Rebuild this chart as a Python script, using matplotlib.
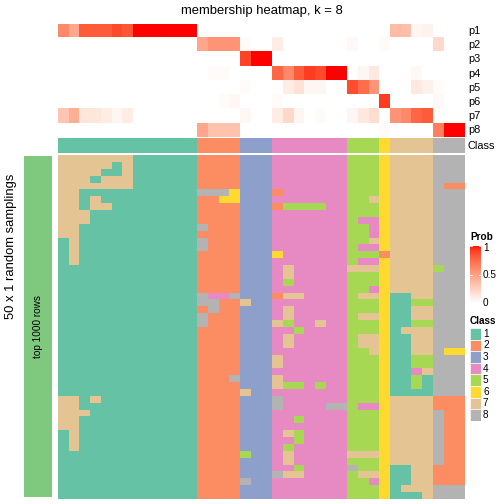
import numpy as np
import matplotlib
matplotlib.use("Agg")
import matplotlib.pyplot as plt
from matplotlib.colors import ListedColormap

plt.rcParams['font.family'] = ['Liberation Sans', 'DejaVu Sans']

# ---------------- data ----------------
title = "membership heatmap, k = 8"
prob_labels = ["p1", "p2", "p3", "p4", "p5", "p6", "p7", "p8"]
class_labels = ["1", "2", "3", "4", "5", "6", "7", "8"]
class_colors = ["#66C2A5", "#FC8D62", "#8DA0CB", "#E78AC3",
                "#A6D854", "#FFD92F", "#E5C494", "#B3B3B3"]

# consensus class of each of the 38 columns
col_class = [1]*13 + [2]*4 + [3]*3 + [4]*7 + [5]*3 + [6] + [7]*4 + [8]*3

p1 = [0.6, 0.45, 0.8, 0.8, 0.8, 0.86, 0.82, 1, 1, 1, 1, 1, 1,
      0, 0, 0, 0, 0, 0, 0, 0, 0, 0, 0, 0, 0, 0, 0, 0, 0, 0,
      0.35, 0.33, 0.05, 0.07, 0, 0, 0]
p2 = [0]*13 + [0.45, 0.55, 0.55, 0.55] + [0.02, 0, 0] + [0.1, 0, 0, 0, 0, 0, 0] \
     + [0.03, 0, 0] + [0.02] + [0, 0, 0, 0] + [0.2, 0, 0]
p3 = [0]*13 + [0, 0, 0, 0] + [0.88, 1, 1] + [0]*7 + [0, 0, 0] + [0] + [0]*4 + [0, 0, 0]
p4 = [0]*13 + [0, 0.02, 0.02, 0] + [0, 0, 0] + [0.75, 0.6, 0.8, 0.9, 0.86, 1, 1] \
     + [0, 0.05, 0.12] + [0] + [0, 0, 0.03, 0] + [0, 0, 0]
p5 = [0]*13 + [0, 0, 0, 0] + [0.02, 0, 0] + [0, 0.1, 0.15, 0.05, 0.05, 0, 0] \
     + [0.85, 0.72, 0.55] + [0] + [0, 0, 0.12, 0.08] + [0.02, 0, 0]
p6 = [0]*13 + [0, 0, 0.02, 0.04] + [0, 0, 0] + [0.02, 0, 0, 0, 0, 0, 0] \
     + [0, 0, 0] + [0.9] + [0, 0, 0, 0] + [0.03, 0, 0]
p7 = [0.3, 0.42, 0.13, 0.13, 0.1, 0.05, 0.1, 0, 0, 0, 0, 0, 0] + [0, 0, 0, 0] \
     + [0.04, 0, 0] + [0.1, 0.2, 0.05, 0, 0.02, 0, 0] + [0.05, 0.12, 0.18] + [0] \
     + [0.55, 0.6, 0.75, 0.8] + [0, 0, 0]
p8 = [0]*13 + [0.45, 0.32, 0.32, 0.32] + [0, 0, 0] + [0]*7 + [0, 0, 0] + [0.02] \
     + [0, 0, 0, 0] + [0.65, 1, 1]

# deviations from the consensus class in the 50 random samplings: row -> {col: class}
sampling_changes = {
    0: {0: 7, 1: 7, 2: 7, 3: 7, 4: 7, 5: 7, 6: 7},
    1: {0: 7, 1: 7, 2: 7, 3: 7, 4: 7, 6: 7},
    2: {0: 7, 1: 7, 2: 7, 3: 7, 6: 7},
    3: {0: 7, 1: 7, 2: 7, 4: 7, 5: 7, 6: 7},
    4: {0: 7, 1: 7, 2: 7, 3: 7, 4: 7, 5: 7, 6: 7, 36: 2, 37: 2},
    5: {0: 7, 1: 7, 13: 8, 14: 8, 15: 8, 16: 6, 20: 2},
    6: {0: 7, 1: 7, 3: 7, 15: 6, 16: 6, 29: 7},
    7: {0: 7, 1: 7, 3: 7, 4: 7, 20: 2, 21: 5, 22: 5, 23: 5, 24: 5},
    8: {0: 7, 1: 7, 2: 7},
    9: {0: 7, 1: 7, 2: 7, 28: 4, 29: 4},
    10: {0: 7, 1: 7, 13: 8, 29: 4},
    11: {0: 7, 1: 7, 29: 4},
    12: {1: 7, 13: 8, 29: 7},
    13: {1: 7, 13: 8, 28: 4, 29: 4},
    14: {1: 7, 20: 6, 30: 2},
    15: {1: 7, 28: 4, 29: 4},
    16: {21: 7, 27: 7, 28: 7, 29: 7, 35: 5},
    17: {21: 7},
    18: {21: 5},
    19: {29: 4},
    20: {13: 8, 14: 4, 15: 4, 16: 8, 20: 2, 21: 7, 22: 7, 28: 7, 29: 7, 31: 1, 32: 1},
    21: {13: 8, 14: 8, 17: 7, 31: 1, 32: 1, 33: 5, 34: 5},
    22: {14: 8, 21: 7, 31: 1, 32: 1},
    23: {13: 8, 21: 7, 28: 7, 29: 7, 31: 1, 32: 1},
    24: {13: 8, 20: 7, 21: 5, 24: 7, 31: 1, 32: 1, 33: 5, 34: 5},
    25: {22: 5, 31: 1},
    26: {21: 7, 28: 7, 29: 7, 31: 1, 32: 1},
    27: {21: 7, 28: 7, 29: 7, 31: 1, 32: 1},
    28: {29: 7, 31: 1, 32: 1, 36: 6, 37: 6},
    29: {20: 7, 31: 1, 32: 1, 33: 5, 34: 5},
    30: {20: 7, 31: 1, 32: 1, 33: 5, 34: 5},
    31: {31: 1, 32: 1, 33: 4},
    32: {16: 8, 20: 7, 31: 1, 32: 1, 33: 5, 34: 1},
    33: {20: 7, 21: 5, 22: 5, 24: 5, 31: 1, 32: 1, 33: 5, 34: 1},
    34: {17: 7, 31: 1, 32: 1, 33: 1, 34: 1},
    35: {0: 7, 1: 7, 3: 7, 20: 8, 35: 2, 36: 2, 37: 2},
    36: {0: 7, 1: 7, 20: 8, 25: 8, 26: 8, 28: 4, 29: 4, 35: 2, 36: 2, 37: 2},
    37: {0: 7, 1: 7, 2: 7, 36: 2, 37: 2},
    38: {0: 7, 1: 7, 22: 5, 36: 2, 37: 2},
    39: {0: 7, 1: 7, 36: 2, 37: 2},
    40: {1: 7, 21: 7, 22: 5, 36: 2, 37: 2},
    41: {1: 7, 22: 5, 36: 2, 37: 2},
    42: {1: 7, 21: 5, 36: 2, 37: 2},
    43: {17: 5, 21: 7, 27: 7, 28: 7, 29: 7, 36: 2, 37: 2},
    44: {21: 7, 36: 2, 37: 2},
    45: {22: 5, 27: 8, 31: 1, 32: 1, 35: 2, 36: 2, 37: 2},
    46: {20: 8, 21: 7, 22: 7, 28: 7, 29: 7, 31: 1, 32: 1, 35: 2, 36: 2, 37: 2},
    47: {17: 8, 29: 4, 31: 1, 32: 1, 35: 2, 36: 2, 37: 2},
    48: {31: 1},
    49: {31: 1, 32: 1, 33: 1},
}
n_samplings = 50
left_annotation_text = "top 1000 rows"
row_title = "50 x 1 random samplings"

# ---------------- colour ramp white -> red in CIELAB ----------------
M = np.array([[0.4124564, 0.3575761, 0.1804375],
              [0.2126729, 0.7151522, 0.0721750],
              [0.0193339, 0.1191920, 0.9503041]])
Minv = np.linalg.inv(M)
WP = M @ np.ones(3)

def srgb_to_lab(rgb):
    rgb = np.asarray(rgb, float)
    lin = np.where(rgb <= 0.04045, rgb / 12.92, ((rgb + 0.055) / 1.055) ** 2.4)
    t = (M @ lin) / WP
    f = np.where(t > (6/29)**3, np.cbrt(t), t / (3*(6/29)**2) + 4/29)
    return np.array([116*f[1] - 16, 500*(f[0]-f[1]), 200*(f[1]-f[2])])

def lab_to_srgb(lab):
    L, a, b = lab
    fy = (L + 16) / 116
    f = np.array([fy + a / 500, fy, fy - b / 200])
    t = np.where(f > 6/29, f**3, 3*(6/29)**2*(f - 4/29))
    lin = np.clip(Minv @ (t * WP), 0, 1)
    rgb = np.where(lin <= 0.0031308, 12.92*lin, 1.055*lin**(1/2.4) - 0.055)
    return np.clip(rgb, 0, 1)

lab_w = srgb_to_lab([1, 1, 1])
lab_r = srgb_to_lab([1, 0, 0])
ramp = [lab_to_srgb(lab_w + (lab_r - lab_w) * t) for t in np.linspace(0, 1, 256)]
ramp[0] = np.array([1.0, 1.0, 1.0])
ramp[-1] = np.array([1.0, 0.0, 0.0])
prob_cmap = ListedColormap(ramp)
class_cmap = ListedColormap(class_colors)

W = H = 504
fig = plt.figure(figsize=(7, 7), dpi=72)

def ax_px(x0, y0, x1, y1):
    a = fig.add_axes([x0 / W, 1 - y1 / H, (x1 - x0) / W, (y1 - y0) / H])
    a.set_axis_off()
    return a

X0, X1 = 58, 465

# probability heatmap
prob = np.array([p1, p2, p3, p4, p5, p6, p7, p8])
axp = ax_px(X0, 24, X1, 137.5)
axp.imshow(prob, cmap=prob_cmap, vmin=0, vmax=1, aspect='auto', interpolation='nearest')
row_h = (137.5 - 24) / len(prob_labels)
for i, lab in enumerate(prob_labels):
    fig.text(468 / W, 1 - (24 + row_h * (i + 0.5)) / H, lab, fontsize=11, va='center', ha='left')

# class annotation row
axc = ax_px(X0, 138, X1, 153)
axc.imshow(np.array([col_class]) - 1, cmap=class_cmap, vmin=-0.5, vmax=7.5, aspect='auto', interpolation='nearest')
fig.text(468 / W, 1 - 146 / H, "Class", fontsize=11, va='center', ha='left')

# membership matrix over random samplings
mat = np.tile(np.array(col_class), (n_samplings, 1))
for r, ch in sampling_changes.items():
    for c, v in ch.items():
        mat[r, c] = v
axm = ax_px(X0, 155, X1, 499)
axm.imshow(mat - 1, cmap=class_cmap, vmin=-0.5, vmax=7.5, aspect='auto', interpolation='nearest')

# left annotation
axl = ax_px(24, 156, 52, 497)
axl.add_patch(plt.Rectangle((0, 0), 1, 1, color="#7FC97F", transform=axl.transAxes))
fig.text(38 / W, 1 - 327 / H, left_annotation_text, rotation=90, fontsize=10, ha='center', va='center')
fig.text(11 / W, 1 - 246 / H, row_title, rotation=90, fontsize=13, ha='center', va='center')

# title
fig.text((X0 + X1) / 2 / W, 1 - 11 / H, title, fontsize=13, ha='center', va='center')

# Prob legend
fig.text(470 / W, 1 - 237 / H, "Prob", fontsize=10, fontweight='bold', ha='left', va='center')
axg = ax_px(470, 246, 481, 303)
grad = np.linspace(1, 0, 200).reshape(-1, 1)
axg.imshow(grad, cmap=prob_cmap, vmin=0, vmax=1, aspect='auto', extent=[0, 1, 0, 1])
axg.set_xlim(0, 1); axg.set_ylim(0, 1)
for yv in (0.5, 1.0):
    axg.plot([0, 0.2], [yv, yv], color='white', lw=0.8)
    axg.plot([0.8, 1], [yv, yv], color='white', lw=0.8)
for val, yy in ((1, 248), (0.5, 275.5), (0, 303)):
    fig.text(483 / W, 1 - yy / H, str(val), fontsize=10, ha='left', va='center')

# Class legend
fig.text(470 / W, 1 - 321 / H, "Class", fontsize=10, fontweight='bold', ha='left', va='center')
box_h = 11.6
for i, (lab, colr) in enumerate(zip(class_labels, class_colors)):
    y0 = 328 + box_h * i
    axb = ax_px(470, y0, 481, y0 + box_h)
    axb.add_patch(plt.Rectangle((0, 0), 1, 1, facecolor=colr, edgecolor='white', lw=0.6,
                                transform=axb.transAxes))
    fig.text(483 / W, 1 - (y0 + box_h / 2) / H, lab, fontsize=10, ha='left', va='center')

fig.savefig("out.png", dpi=72)
